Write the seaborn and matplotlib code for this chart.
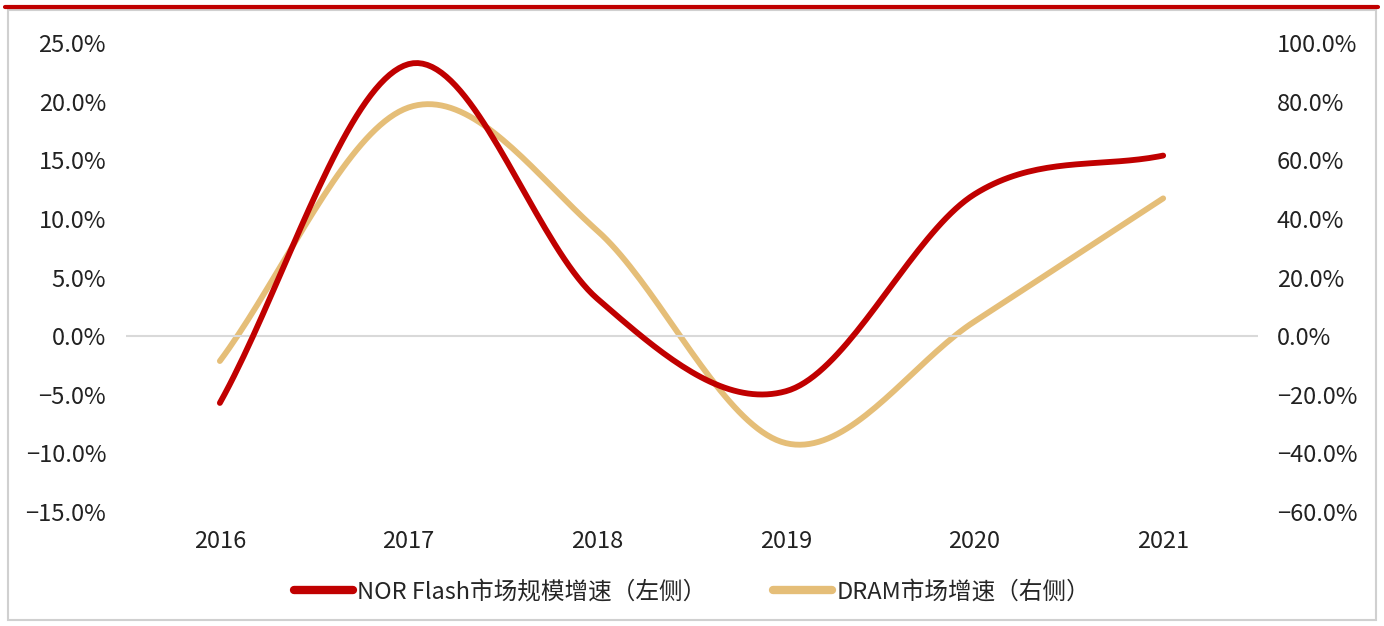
import numpy as np
import pandas as pd
import matplotlib
matplotlib.use('Agg')
import matplotlib.pyplot as plt
import seaborn as sns
from matplotlib.lines import Line2D
from matplotlib.patches import Rectangle

# 数据
years = ['2016', '2017', '2018', '2019', '2020', '2021']
nor_growth = [-5.7, 23.2, 3.2, -4.7, 12.1, 15.4]      # 左轴 %
dram_growth = [-8.5, 78.0, 36.0, -36.5, 5.0, 47.0]    # 右轴 %
left_ticks = [-15, -10, -5, 0, 5, 10, 15, 20, 25]
right_ticks = [-60, -40, -20, 0, 20, 40, 60, 80, 100]
nor_label = 'NOR Flash市场规模增速（左侧）'
dram_label = 'DRAM市场增速（右侧）'

red = '#C00000'
tan = '#E5BE78'


def smooth(y, n=40):
    # Excel风格平滑线 (Catmull-Rom)
    y = np.asarray(y, float)
    x = np.arange(len(y), dtype=float)
    px = np.concatenate([[2 * x[0] - x[1]], x, [2 * x[-1] - x[-2]]])
    py = np.concatenate([[2 * y[0] - y[1]], y, [2 * y[-1] - y[-2]]])
    xs, ys = [], []
    for i in range(1, len(px) - 2):
        t = np.linspace(0, 1, n, endpoint=(i == len(px) - 3))
        for arr, out in ((px, xs), (py, ys)):
            p0, p1, p2, p3 = arr[i - 1], arr[i], arr[i + 1], arr[i + 2]
            out.append(0.5 * ((2 * p1) + (-p0 + p2) * t
                              + (2 * p0 - 5 * p1 + 4 * p2 - p3) * t ** 2
                              + (-p0 + 3 * p1 - 3 * p2 + p3) * t ** 3))
    return np.concatenate(xs), np.concatenate(ys)


def pct(v):
    return f'{v:.1f}%'.replace('-', '\u2212')


sns.set_style('white')
plt.rcParams['font.family'] = ['Noto Sans CJK SC', 'DejaVu Sans']

fig = plt.figure(figsize=(13.84, 6.26), dpi=100)
ax = fig.add_axes([0.0907, 0.1821, 0.8179, 0.7492])
ax2 = ax.twinx()

nx, ny = smooth(nor_growth)
dx, dy = smooth(dram_growth)
sns.lineplot(x=nx, y=ny, ax=ax, color=red, linewidth=4.2, sort=False,
             solid_capstyle='round', zorder=3)
sns.lineplot(x=dx, y=dy, ax=ax2, color=tan, linewidth=4.2, sort=False,
             solid_capstyle='round', zorder=2)
ax.set_zorder(ax2.get_zorder() + 1)
ax.patch.set_visible(False)

ax.axhline(0, color='#D9D9D9', linewidth=1.5, zorder=1)

ax.set_xlim(-0.5, len(years) - 0.5)
ax.set_xticks(range(len(years)))
ax.set_xticklabels(years)
ax.set_ylim(-15, 25)
ax.set_yticks(left_ticks)
ax.set_yticklabels([pct(v) for v in left_ticks])
ax2.set_ylim(-60, 100)
ax2.set_yticks(right_ticks)
ax2.set_yticklabels([pct(v) for v in right_ticks])

for a in (ax, ax2):
    for s in a.spines.values():
        s.set_visible(False)
    a.tick_params(length=0, labelsize=17, colors='#222222')
    a.grid(False)
    a.set_ylabel('')
ax.tick_params(axis='y', pad=14)
ax2.tick_params(axis='y', pad=14)
ax.tick_params(axis='x', pad=13)

handles = [Line2D([], [], color=red, linewidth=6, solid_capstyle='round'),
           Line2D([], [], color=tan, linewidth=6, solid_capstyle='round')]
fig.legend(handles, [nor_label, dram_label], loc='center',
           bbox_to_anchor=(0.5, 1 - 592 / 626), ncol=2, frameon=False,
           fontsize=17, handlelength=2.5, handletextpad=0.2,
           columnspacing=2.8)

# 外框与顶部红线
fig.patches.append(Rectangle((8 / 1384, 6 / 626), 1368 / 1384, 610 / 626,
                             transform=fig.transFigure, fill=False,
                             edgecolor='#D0D0D0', linewidth=1.5))
fig.add_artist(Line2D([5 / 1384, 1378 / 1384], [1 - 7 / 626, 1 - 7 / 626],
                      transform=fig.transFigure, color=red, linewidth=3))

fig.savefig('out.png', dpi=100)
